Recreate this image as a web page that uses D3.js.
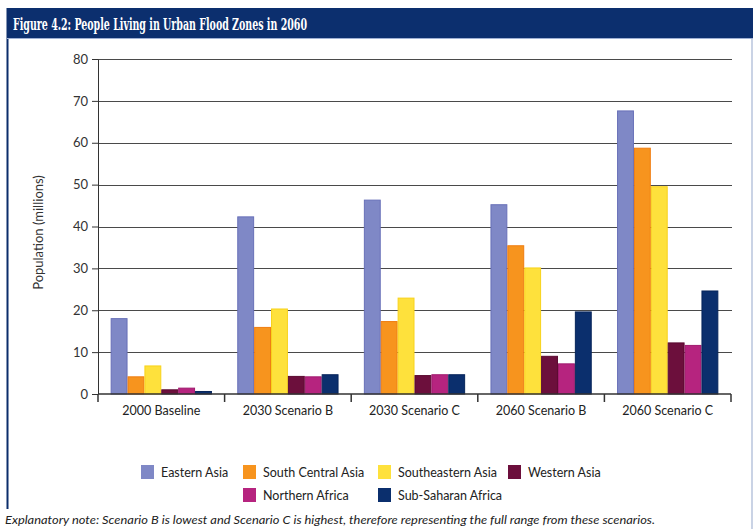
<!DOCTYPE html>
<html>
<head>
<meta charset="utf-8">
<script src="https://cdn.jsdelivr.net/npm/d3@7"></script>
<style>
  body { margin: 0; background: #fff; }
  svg text { font-family: Lato, "Open Sans", sans-serif; }
</style>
</head>
<body>
<div id="chart-area"></div>
<script>
// Data
var scenarios = ["2000 Baseline", "2030 Scenario B", "2030 Scenario C", "2060 Scenario B", "2060 Scenario C"];
var regions = ["Eastern Asia", "South Central Asia", "Southeastern Asia", "Western Asia", "Northern Africa", "Sub-Saharan Africa"];
var easternAsia      = [18.0, 42.3, 46.3, 45.2, 67.6];
var southCentralAsia = [4.1, 15.9, 17.3, 35.4, 58.7];
var southeasternAsia = [6.7, 20.3, 22.9, 30.1, 49.5];
var westernAsia      = [1.0, 4.2, 4.4, 9.0, 12.2];
var northernAfrica   = [1.4, 4.1, 4.6, 7.2, 11.6];
var subSaharanAfrica = [0.6, 4.6, 4.6, 19.6, 24.6];
var yTicks = [0, 10, 20, 30, 40, 50, 60, 70, 80];

var seriesValues = [easternAsia, southCentralAsia, southeasternAsia, westernAsia, northernAfrica, subSaharanAfrica];
var fills   = ["#7f88c6", "#f7941e", "#fee13c", "#6c0f3c", "#b6247f", "#0b2f6d"];
var strokes = ["#6870b8", "#ef7d10", "#f8d21a", "#5a0a30", "#a01a6e", "#06245a"];

var W = 753, H = 529;
var margin = { left: 98, right: 22, top: 59, bottom: 135 };
var width = 731 - margin.left,
    height = 394 - margin.top;

var svg = d3.select("#chart-area").append("svg")
    .attr("width", W)
    .attr("height", H);

// Frame and title bar
svg.append("line")
    .attr("x1", 7.5).attr("x2", 7.5).attr("y1", 8).attr("y2", 509)
    .attr("stroke", "#0b2d6b").attr("stroke-width", 2);
svg.append("line")
    .attr("x1", 752).attr("x2", 752).attr("y1", 38).attr("y2", 529)
    .attr("stroke", "#b8c4dc").attr("stroke-width", 1.5);
svg.append("rect")
    .attr("x", 7).attr("y", 8).attr("width", W - 7).attr("height", 30)
    .attr("fill", "#0c2f6e");
svg.append("line")
    .attr("x1", 7).attr("x2", W).attr("y1", 38.5).attr("y2", 38.5)
    .attr("stroke", "#9fb0d4").attr("stroke-width", 1);
svg.append("text")
    .attr("x", 13).attr("y", 30)
    .style("font-family", "'DejaVu Serif', serif")
    .style("font-weight", "bold")
    .style("font-size", "16px")
    .attr("fill", "#fff")
    .attr("textLength", 294)
    .attr("lengthAdjust", "spacingAndGlyphs")
    .text("Figure 4.2: People Living in Urban Flood Zones in 2060");

var g = svg.append("g")
    .attr("transform", "translate(" + margin.left + "," + margin.top + ")");

// Scales
var x0 = d3.scaleBand().domain(scenarios).range([0, width]).padding(0);
var x1 = d3.scaleBand().domain(regions).range([0, x0.bandwidth()])
    .paddingInner(0).paddingOuter(0.75);
var y = d3.scaleLinear().domain([0, 80]).range([height, 0]);

// Gridlines
g.append("g").selectAll("line")
    .data(yTicks.slice(1))
    .enter().append("line")
    .attr("x1", 0).attr("x2", width + 1)
    .attr("y1", function(d) { return Math.round(y(d)) + 0.5; })
    .attr("y2", function(d) { return Math.round(y(d)) + 0.5; })
    .attr("stroke", "#4a4a4a")
    .attr("stroke-width", 1);

// Bars
var groups = g.append("g").selectAll("g")
    .data(scenarios)
    .enter().append("g")
    .attr("transform", function(d) { return "translate(" + x0(d) + ",0)"; });

groups.selectAll("rect")
    .data(function(s, i) {
        return regions.map(function(r, j) { return { region: r, idx: j, value: seriesValues[j][i] }; });
    })
    .enter().append("rect")
    .attr("x", function(d) { return x1(d.region) + 0.5; })
    .attr("y", function(d) { return y(d.value); })
    .attr("width", x1.bandwidth() - 1)
    .attr("height", function(d) { return height - y(d.value); })
    .attr("fill", function(d) { return fills[d.idx]; })
    .attr("stroke", function(d) { return strokes[d.idx]; })
    .attr("stroke-width", 1);

// Y axis
var yAxisCall = d3.axisLeft(y).tickValues(yTicks).tickSize(6).tickPadding(4);
var yAxis = g.append("g").attr("class", "y axis").call(yAxisCall);
yAxis.select(".domain").attr("stroke", "#333").attr("d", "M0.5," + height + "V0.5");
yAxis.selectAll(".tick line").attr("stroke", "#333");
yAxis.selectAll(".tick text")
    .style("font-size", "13px")
    .attr("fill", "#333");

// X axis
var xAxisCall = d3.axisBottom(x0).tickSize(0).tickPadding(12);
var xAxis = g.append("g")
    .attr("class", "x axis")
    .attr("transform", "translate(0," + height + ")")
    .call(xAxisCall);
xAxis.select(".domain").attr("stroke", "#333").attr("stroke-width", 1.5).attr("d", "M0,0H" + width);
xAxis.selectAll(".tick text")
    .style("font-size", "12.5px")
    .attr("fill", "#222");
xAxis.append("g").selectAll("line")
    .data(scenarios.concat(["end"]))
    .enter().append("line")
    .attr("x1", function(d) { return d === "end" ? width : x0(d); })
    .attr("x2", function(d) { return d === "end" ? width : x0(d); })
    .attr("y1", 0).attr("y2", 8)
    .attr("stroke", "#333").attr("stroke-width", 1.5);

// Y axis label
g.append("text")
    .attr("transform", "rotate(-90)")
    .attr("x", -(height / 2) - 6)
    .attr("y", -55)
    .style("text-anchor", "middle")
    .style("font-size", "13px")
    .attr("fill", "#333")
    .text("Population (millions)");

// Legend
var legendPos = [
    { x: 141, y: 472 }, { x: 243, y: 472 }, { x: 378, y: 472 }, { x: 508, y: 472 },
    { x: 243, y: 495 }, { x: 378, y: 495 }
];
var legend = svg.append("g").selectAll("g")
    .data(regions)
    .enter().append("g")
    .attr("transform", function(d, i) { return "translate(" + legendPos[i].x + "," + legendPos[i].y + ")"; });
legend.append("rect")
    .attr("x", 0).attr("y", -7)
    .attr("width", 13).attr("height", 14)
    .attr("fill", function(d, i) { return fills[i]; });
legend.append("text")
    .attr("x", 20).attr("y", 4.5)
    .style("font-size", "12.5px")
    .attr("fill", "#222")
    .text(function(d) { return d; });

// Note
svg.append("text")
    .attr("x", 5).attr("y", 524)
    .style("font-size", "12px")
    .style("font-style", "italic")
    .attr("fill", "#222")
    .attr("textLength", 650)
    .attr("lengthAdjust", "spacingAndGlyphs")
    .text("Explanatory note: Scenario B is lowest and Scenario C is highest, therefore representing the full range from these scenarios.");
</script>
</body>
</html>
